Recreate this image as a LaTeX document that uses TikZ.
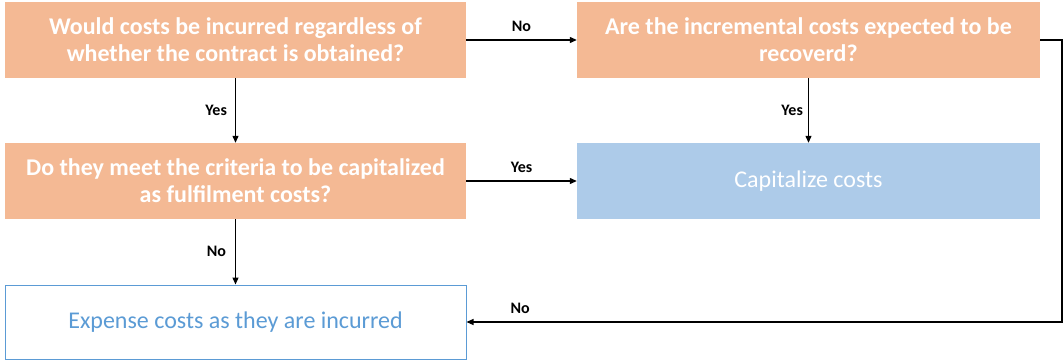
\documentclass[tikz,border=0pt]{standalone}
\usepackage{fontspec}
\setmainfont{Carlito}
\usetikzlibrary{arrows.meta}
\definecolor{peach}{HTML}{F4B994}
\definecolor{skyfill}{HTML}{ADCBE9}
\definecolor{steel}{HTML}{5B9BD5}
\begin{document}
\begin{tikzpicture}[x=1pt,y=-1pt,
  box/.style={minimum width=461pt,minimum height=76pt,inner sep=0pt,align=center,
    font=\fontsize{24}{27}\selectfont},
  question/.style={box,fill=peach,text=white,font=\fontsize{24}{27}\selectfont\bfseries},
  outcome/.style={box,fill=skyfill,text=white},
  expense/.style={box,draw=steel,line width=1pt,fill=white,text=steel,minimum height=74pt},
  arr/.style={draw=black,line width=1.2pt,-{Triangle[length=7pt,width=6pt]}},
  lbl/.style={font=\fontsize{16}{18}\selectfont\bfseries,text=black,inner sep=1pt}]
\useasboundingbox (0,0) rectangle (1063,361);
% decision boxes
\node[question] (q1) at (235.5,40) {Would costs be incurred regardless of\\whether the contract is obtained?};
\node[question,minimum width=463pt] (q2) at (808.5,40) {Are the incremental costs expected to be\\recoverd?};
\node[question] (q3) at (235.5,181) {Do they meet the criteria to be capitalized\\as fulfilment costs?};
% outcome boxes
\node[outcome,minimum width=463pt] (cap) at (808.5,181) {Capitalize costs};
\node[expense] (exp) at (235.5,322) {Expense costs as they are incurred};
% connectors
\coordinate (turn) at (1062,40);
\draw[arr] (q1) -- (q2) node[lbl,midway,above=7pt] {No};
\draw[arr] (q1) -- (q3) node[lbl,midway,left=7pt] {Yes};
\draw[arr] (q2) -- (cap) node[lbl,midway,left=4pt] {Yes};
\draw[arr] (q3) -- (cap) node[lbl,midway,above=7pt] {Yes};
\draw[arr] (q3) -- (exp) node[lbl,midway,left=8pt] {No};
\draw[arr] (q2.east) -- (turn) |- (exp.east) node[lbl,pos=0.955,above=7pt] {No};
\end{tikzpicture}
\end{document}
